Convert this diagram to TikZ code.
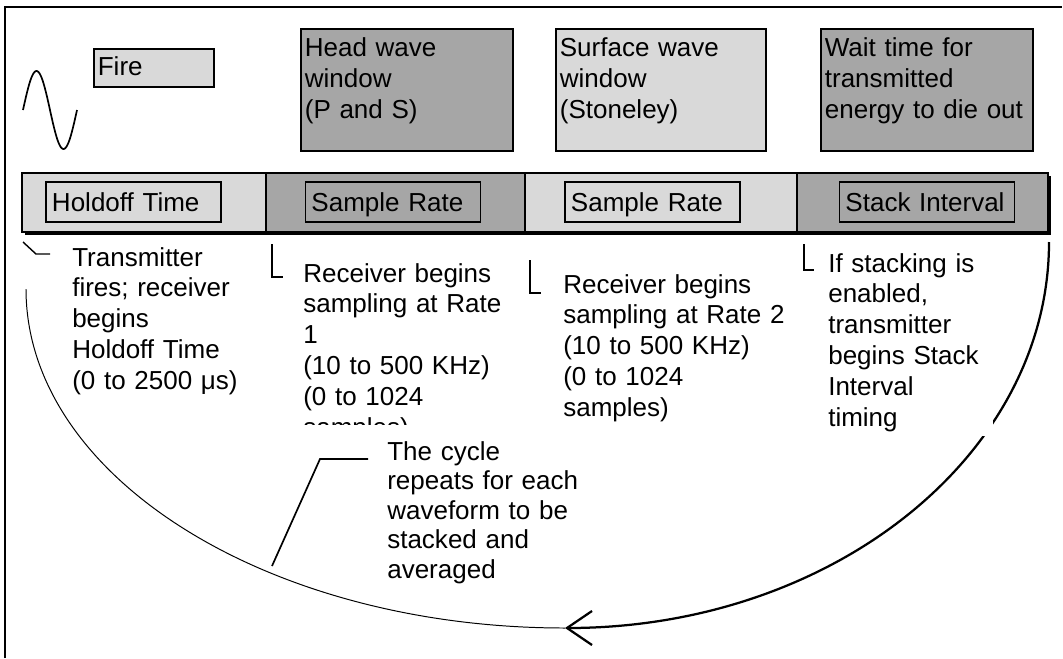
\documentclass[tikz,border=0pt]{standalone}
\usepackage{fontspec}
\setmainfont{Liberation Sans}
\usetikzlibrary{arrows.meta, positioning}

\definecolor{shadelight}{gray}{0.851}
\definecolor{shadedark}{gray}{0.651}

\begin{document}
\begin{tikzpicture}[x=0.025cm, y=-0.025cm,
    every node/.style={font=\fontsize{18.5}{22}\selectfont},
    window/.style={draw=black, line width=1.2pt, anchor=north west, align=left,
                   inner xsep=0.1cm, inner ysep=0pt, text height=0.7cm, text depth=2.35cm},
    barseg/.style={draw=black, line width=1.2pt, minimum height=1.475cm,
                   inner sep=0pt, outer sep=0pt},
    tag/.style={draw=black, line width=1.2pt, align=left, text width=4.075cm,
                inner xsep=0.15cm, minimum height=1cm, text height=0.6cm, text depth=0.15cm},
    note/.style={anchor=base west, align=left, inner sep=0pt, text width=6cm},
    tickline/.style={line width=1pt},
    cyclearc/.style={line width=1.6pt}
]
\useasboundingbox (0,0) rectangle (1063,658);

% frame
\draw[line width=1.4pt] (5,658) -- (5,7) -- (1062,7);

% transmitter pulse
\draw[line width=1.2pt] plot[domain=0:360, samples=72, smooth] ({23+\x/360*54}, {110-39*sin(\x)});

% windows above the bar
\node[window, fill=shadelight, text width=2.8cm, text height=0.675cm, text depth=0.275cm]
    (fire) at (93,48) {Fire};
\node[window, fill=shadedark, text width=5.1cm] (head) at (300,28) {Head wave\\window\\(P and S)};
\node[window, fill=shadelight, text width=5.05cm] (surface) at (555,28) {Surface wave\\window\\(Stoneley)};
\node[window, fill=shadedark, text width=5.1cm] (wait) at (820,28) {Wait time for\\transmitted\\energy to die out};

% timing bar
\fill (25,176) rectangle (1051,235);
\node[barseg, fill=shadelight, minimum width=6.1cm, anchor=north west] (holdseg) at (22,173) {};
\node[barseg, fill=shadedark, minimum width=6.475cm, right=0pt of holdseg] (rate1seg) {};
\node[barseg, fill=shadelight, minimum width=6.8cm, right=0pt of rate1seg] (rate2seg) {};
\node[barseg, fill=shadedark, minimum width=6.275cm, right=0pt of rate2seg] (stackseg) {};

\node[tag, fill=shadelight] (holdoff) at (133.5,202) {Holdoff Time};
\node[tag, fill=shadedark]  (rate1)   at (393,202)   {Sample Rate};
\node[tag, fill=shadelight] (rate2)   at (652.5,202) {Sample Rate};
\node[tag, fill=shadedark]  (stack)   at (927,202)   {Stack Interval};

% start ticks
\draw[tickline] (23,242) -- (36,254) -- (50,254);
\draw[tickline] (272,244) -- (272,277) -- (283,277);
\draw[tickline] (530,260) -- (530,293) -- (541,293);
\draw[tickline] (804,244) -- (804,270) -- (814,270);

% notes under the bar
\node[note] (firesnote) at (72,266)
    {Transmitter\\fires; receiver\\begins\\Holdoff Time\\(0 to 2500 μs)};
\begin{scope}
  \clip (295,236) rectangle (520,424);
  \node[note] (rate1note) at (303,282)
      {Receiver begins\\sampling at Rate\\1\\(10 to 500 KHz)\\(0 to 1024\\samples)};
\end{scope}
\begin{scope}
  \clip (555,236) rectangle (790,430);
  \node[note] (rate2note) at (563,293)
      {Receiver begins\\sampling at Rate 2\\(10 to 500 KHz)\\(0 to 1024\\samples)};
\end{scope}

% the cycle
\coordinate (arcstart) at (26,289);
\coordinate (arcright) at (1049,242);
\draw[line width=0.7pt] (arcstart) arc[start angle=180, end angle=90, x radius=539, y radius=339]
    coordinate (arctip);
\draw[cyclearc, -{Straight Barb[length=0.625cm, width=0.85cm]}]
    (arcright) arc[start angle=0, end angle=90, x radius=484, y radius=386];

\begin{scope}
  \clip (816,236) rectangle (993,436);
  \fill[white] (816,236) rectangle (993,436);
  \node[note] (stacknote) at (828,272)
      {If stacking is\\enabled,\\transmitter\\begins Stack\\Interval\\timing};
\end{scope}

\node[note, font=\fontsize{18.5}{21}\selectfont] (repeatnote) at (387,460)
    {The cycle\\repeats for each\\waveform to be\\stacked and\\averaged};
\coordinate (leadstart) at (368,459);
\coordinate (leadbend) at (320,459);
\coordinate (onarc) at (272,566);
\draw[line width=1.2pt] (leadstart) -- (leadbend) -- (onarc);
\end{tikzpicture}
\end{document}
